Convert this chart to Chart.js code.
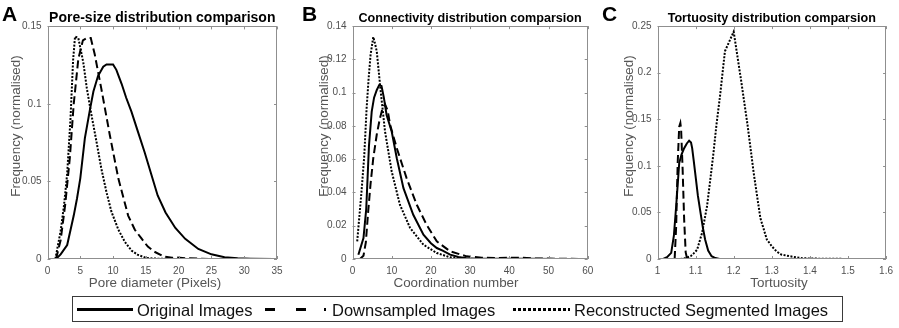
<!DOCTYPE html>
<html>
<head>
<meta charset="utf-8">
<script src="https://cdn.jsdelivr.net/npm/chart.js@4.4.1/dist/chart.umd.min.js"></script>
<style>
  html, body { margin: 0; padding: 0; background: #fff; }
  #wrap { position: relative; width: 899px; height: 328px; overflow: hidden; font-family: 'Liberation Sans', Arial, sans-serif; }
  #wrap canvas { position: absolute; top: 0; }
  .plabel { position: absolute; top: 3px; font-weight: bold; font-size: 21px; line-height: 21px; color: #000; }
  #legendBox { position: absolute; left: 72px; top: 296px; width: 771px; height: 26px; border: 1px solid #3a3a3a; box-sizing: border-box; }
  .ltext { position: absolute; top: 300px; font-size: 16.5px; line-height: 20px; color: #111; white-space: nowrap; }
  #legendSvg { position: absolute; left: 0; top: 0; }
</style>
</head>
<body>
<div id="wrap">
  <canvas id="chartA" width="300" height="293" style="left:0px"></canvas>
  <canvas id="chartB" width="300" height="293" style="left:300px"></canvas>
  <canvas id="chartC" width="299" height="293" style="left:600px"></canvas>
  <div class="plabel" style="left:2px">A</div>
  <div class="plabel" style="left:302px">B</div>
  <div class="plabel" style="left:602px">C</div>
  <div id="legendBox"></div>
  <svg id="legendSvg" width="899" height="328"></svg>
</div>
<script>
// ---------------- data ----------------
const seriesNames = ['Original Images', 'Downsampled Images', 'Reconstructed Segmented Images'];

// Panel A: pore diameter (pixels)
const poreOrigX  = [1.3, 2, 3, 4, 4.5, 5, 5.7, 6.5, 7, 7.7, 8.5, 9, 10, 10.5, 11.3, 12, 12.8, 13.8, 14.8, 15.8, 16.8, 18, 19.5, 21, 23, 25, 27, 29, 31, 34.5];
const poreOrigY  = [0, 0.003, 0.009, 0.028, 0.039, 0.052, 0.078, 0.097, 0.108, 0.118, 0.124, 0.1255, 0.1255, 0.122, 0.113, 0.104, 0.095, 0.082, 0.069, 0.055, 0.041, 0.030, 0.020, 0.013, 0.0065, 0.003, 0.0012, 0.0005, 0.0002, 0];
const poreDownX  = [1.3, 2, 2.7, 3.4, 4, 4.7, 5.4, 6, 6.6, 7.2, 8.2, 9.5, 10.8, 12.3, 13.3, 14.3, 15.3, 16.3, 17.8, 19, 19.5, 21, 23, 25];
const poreDownY  = [0, 0.012, 0.035, 0.065, 0.100, 0.129, 0.141, 0.1425, 0.1425, 0.132, 0.110, 0.080, 0.052, 0.028, 0.019, 0.0134, 0.008, 0.0047, 0.0015, 0.0008, 0.001, 0.0005, 0.0003, 0];
const poreReconX = [1.2, 2, 2.5, 3, 3.5, 3.9, 4.2, 4.7, 5.45, 6, 6.7, 7.5, 8.2, 9, 9.75, 10.8, 11.8, 12.8, 13.8, 15, 16, 18, 20];
const poreReconY = [0, 0.018, 0.034, 0.055, 0.090, 0.128, 0.1435, 0.1425, 0.127, 0.110, 0.093, 0.075, 0.0585, 0.043, 0.0305, 0.019, 0.011, 0.0055, 0.0026, 0.0008, 0.0003, 0.0001, 0];
const poreXTicks = [0, 5, 10, 15, 20, 25, 30, 35];
const poreYTicks = [0, 0.05, 0.1, 0.15];

// Panel B: coordination number
const coordOrigX  = [1.5, 2.8, 3.5, 4.2, 4.9, 5.5, 6.2, 6.8, 7.4, 8, 8.7, 10, 11.3, 13, 15.5, 18.1, 20, 21.5, 23, 24.9, 27, 29.1, 32, 35, 40, 45, 52];
const coordOrigY  = [0.0026, 0.0126, 0.030, 0.068, 0.0886, 0.097, 0.1016, 0.1045, 0.104, 0.097, 0.0866, 0.0766, 0.0606, 0.0426, 0.0266, 0.0146, 0.0095, 0.0066, 0.005, 0.0026, 0.0012, 0.0004, 0.0002, 0.0001, 0.0001, 0.0001, 0];
const coordDownX  = [1.9, 2.8, 3.4, 4.0, 4.6, 5.3, 6.2, 7.0, 7.7, 8.3, 9.0, 9.6, 11.3, 13.8, 16.4, 18.9, 21.5, 24.9, 29.1, 33, 37, 43, 47, 52, 58];
const coordDownY  = [0, 0.002, 0.010, 0.0286, 0.045, 0.0606, 0.075, 0.0846, 0.091, 0.093, 0.089, 0.0806, 0.0666, 0.0486, 0.0326, 0.0206, 0.0106, 0.0046, 0.0016, 0.0008, 0.0006, 0.0008, 0.0003, 0.0002, 0];
const coordReconX = [1.2, 2.3, 3, 3.6, 4.1, 4.6, 5.3, 5.8, 6.2, 7.2, 8.3, 10, 12.1, 14.7, 18.1, 21.5, 24.9, 28, 30];
const coordReconY = [0.0106, 0.0406, 0.062, 0.0906, 0.108, 0.1226, 0.1335, 0.129, 0.1246, 0.1006, 0.0766, 0.0526, 0.0326, 0.0186, 0.0086, 0.0036, 0.001, 0.0003, 0];
const coordXTicks = [0, 10, 20, 30, 40, 50, 60];
const coordYTicks = [0, 0.02, 0.04, 0.06, 0.08, 0.1, 0.12, 0.14];

// Panel C: tortuosity
const tortOrigX  = [1.015, 1.025, 1.036, 1.043, 1.049, 1.057, 1.063, 1.070, 1.077, 1.083, 1.088, 1.091, 1.095, 1.1, 1.106, 1.113, 1.119, 1.125, 1.133, 1.142, 1.152, 1.163];
const tortOrigY  = [0, 0.002, 0.0066, 0.025, 0.0566, 0.103, 0.112, 0.119, 0.124, 0.127, 0.125, 0.119, 0.106, 0.0888, 0.068, 0.0495, 0.034, 0.0209, 0.009, 0.003, 0.001, 0];
const tortDownX  = [1.045, 1.049, 1.053, 1.057, 1.060, 1.062, 1.066, 1.070, 1.074, 1.078];
const tortDownY  = [0, 0.035, 0.103, 0.142, 0.146, 0.139, 0.096, 0.042, 0.007, 0];
const tortReconX = [1.06, 1.074, 1.087, 1.095, 1.104, 1.117, 1.130, 1.140, 1.147, 1.155, 1.164, 1.177, 1.2, 1.219, 1.236, 1.253, 1.27, 1.287, 1.3, 1.313, 1.325, 1.347, 1.38, 1.42, 1.46, 1.5, 1.525];
const tortReconY = [0, 0.001, 0.003, 0.006, 0.01, 0.028, 0.0566, 0.09, 0.114, 0.145, 0.1745, 0.223, 0.244, 0.193, 0.145, 0.091, 0.044, 0.021, 0.0137, 0.008, 0.0048, 0.003, 0.0008, 0.0004, 0.0002, 0.0001, 0];
const tortXTicks = [1, 1.1, 1.2, 1.3, 1.4, 1.5, 1.6];
const tortYTicks = [0, 0.05, 0.1, 0.15, 0.2, 0.25];

const panelTitles = ['Pore-size distribution comparison', 'Connectivity distribution comparsion', 'Tortuosity distribution comparsion'];
const xAxisTitles = ['Pore diameter (Pixels)', 'Coordination number', 'Tortuosity'];
const yAxisTitle = 'Frequency (normalised)';

// ---------------- styling ----------------
const FONT = "'Liberation Sans', Arial, sans-serif";
Chart.defaults.font.family = FONT;
const dashStyles = [[], [8, 4], [2, 1.5]];

const boxPlugin = {
  id: 'matlabBox',
  afterDatasetsDraw(chart) {
    const { ctx, chartArea: a, scales: { x, y } } = chart;
    ctx.save();
    ctx.strokeStyle = '#8f8f8f';
    ctx.lineWidth = 1;
    ctx.strokeRect(Math.round(a.left) + 0.5, Math.round(a.top) + 0.5, Math.round(a.right) - Math.round(a.left) - 1, Math.round(a.bottom) - Math.round(a.top) - 1);
    const L = 3;
    ctx.beginPath();
    x.ticks.forEach(t => {
      const px = Math.round(x.getPixelForValue(t.value)) + 0.5;
      ctx.moveTo(px, a.bottom); ctx.lineTo(px, a.bottom - L);
      ctx.moveTo(px, a.top); ctx.lineTo(px, a.top + L);
    });
    y.ticks.forEach(t => {
      const py = Math.round(y.getPixelForValue(t.value)) + 0.5;
      ctx.moveTo(a.left, py); ctx.lineTo(a.left + L, py);
      ctx.moveTo(a.right, py); ctx.lineTo(a.right - L, py);
    });
    ctx.stroke();
    ctx.restore();
  }
};

const axisTitlePlugin = {
  id: 'axisTitles',
  afterDraw(chart, args, opts) {
    const ctx = chart.ctx;
    ctx.save();
    ctx.fillStyle = '#555';
    ctx.font = '13.4px ' + FONT;
    ctx.textAlign = 'center';
    ctx.textBaseline = 'alphabetic';
    ctx.fillText(opts.xText, opts.xCx, opts.xBase);
    ctx.translate(opts.yBase, opts.yCy);
    ctx.rotate(-Math.PI / 2);
    ctx.fillText(opts.yText, 0, 0);
    ctx.restore();
  }
};

function makeChart(id, p) {
  const datasets = p.series.map((s, i) => ({
    label: seriesNames[i],
    data: s.x.map((xv, k) => ({ x: xv, y: s.y[k] })),
    borderColor: '#000',
    borderWidth: 2,
    borderDash: dashStyles[i],
    pointRadius: 0,
    fill: false,
    tension: 0
  }));
  const tickOpts = { font: { size: 10 }, color: '#505050', padding: 6, autoSkip: false, maxRotation: 0, callback: v => String(v) };
  return new Chart(document.getElementById(id), {
    type: 'line',
    data: { datasets },
    options: {
      responsive: false, animation: false, devicePixelRatio: 1,
      layout: { padding: { left: 0, right: p.padRight, top: 0, bottom: 0 } },
      plugins: {
        legend: { display: false },
        tooltip: { enabled: false },
        title: { display: true, text: p.title, fullSize: false, color: '#000', font: { size: p.titleSize, weight: 'bold' }, padding: { top: p.titlePad, bottom: 0 } },
        axisTitles: p.axisTitles
      },
      scales: {
        x: {
          type: 'linear', min: p.xTicks[0], max: p.xTicks[p.xTicks.length - 1],
          afterFit: s => { s.height = 34; },
          afterBuildTicks: s => { s.ticks = p.xTicks.map(v => ({ value: v })); },
          ticks: tickOpts,
          grid: { display: false, drawTicks: false },
          border: { display: false }
        },
        y: {
          type: 'linear', min: p.yTicks[0], max: p.yTicks[p.yTicks.length - 1],
          afterFit: s => { s.width = p.yWidth; },
          afterBuildTicks: s => { s.ticks = p.yTicks.map(v => ({ value: v })); },
          ticks: tickOpts,
          grid: { display: false, drawTicks: false },
          border: { display: false }
        }
      }
    },
    plugins: [boxPlugin, axisTitlePlugin]
  });
}

makeChart('chartA', {
  title: panelTitles[0], titleSize: 14, titlePad: 9.6, xTicks: poreXTicks, yTicks: poreYTicks, yWidth: 47.5, padRight: 23,
  series: [{ x: poreOrigX, y: poreOrigY }, { x: poreDownX, y: poreDownY }, { x: poreReconX, y: poreReconY }],
  axisTitles: { xText: xAxisTitles[0], xCx: 155, xBase: 287, yText: yAxisTitle, yBase: 19.7, yCy: 126 }
});
makeChart('chartB', {
  title: panelTitles[1], titleSize: 12.6, titlePad: 11, xTicks: coordXTicks, yTicks: coordYTicks, yWidth: 52.5, padRight: 12.3,
  series: [{ x: coordOrigX, y: coordOrigY }, { x: coordDownX, y: coordDownY }, { x: coordReconX, y: coordReconY }],
  axisTitles: { xText: xAxisTitles[1], xCx: 156, xBase: 287, yText: yAxisTitle, yBase: 27.7, yCy: 126 }
});
makeChart('chartC', {
  title: panelTitles[2], titleSize: 12.6, titlePad: 11, xTicks: tortXTicks, yTicks: tortYTicks, yWidth: 57.5, padRight: 6.3,
  series: [{ x: tortOrigX, y: tortOrigY }, { x: tortDownX, y: tortDownY }, { x: tortReconX, y: tortReconY }],
  axisTitles: { xText: xAxisTitles[2], xCx: 179, xBase: 287, yText: yAxisTitle, yBase: 32.7, yCy: 126 }
});

// ---------------- legend ----------------
const legendSamples = [
  { x1: 77, x2: 133, dash: '', textX: 137 },
  { x1: 265, x2: 327, dash: '10,21,10,18,2,100', textX: 332 },
  { x1: 513, x2: 570, dash: '3,2', textX: 574 }
];
const svg = document.getElementById('legendSvg');
const wrap = document.getElementById('wrap');
legendSamples.forEach((s, i) => {
  const ln = document.createElementNS('http://www.w3.org/2000/svg', 'line');
  ln.setAttribute('x1', s.x1); ln.setAttribute('x2', s.x2);
  ln.setAttribute('y1', 309.5); ln.setAttribute('y2', 309.5);
  ln.setAttribute('stroke', '#000'); ln.setAttribute('stroke-width', 3);
  if (s.dash) ln.setAttribute('stroke-dasharray', s.dash);
  svg.appendChild(ln);
  const t = document.createElement('div');
  t.className = 'ltext';
  t.style.left = s.textX + 'px';
  t.textContent = seriesNames[i];
  wrap.appendChild(t);
});
</script>
</body>
</html>
